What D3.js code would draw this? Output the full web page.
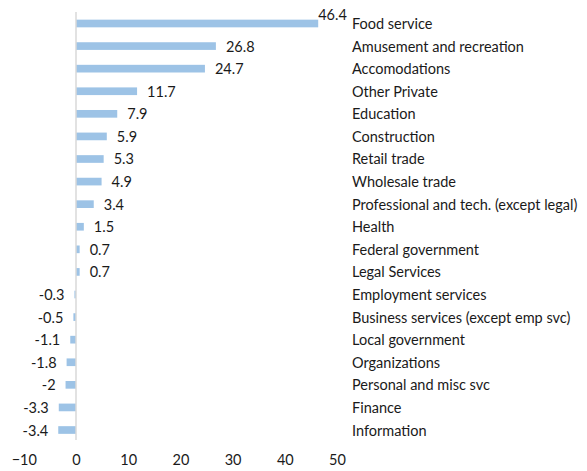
<!DOCTYPE html>
<html>
<head>
<meta charset="utf-8">
<script src="https://cdn.jsdelivr.net/npm/d3@7/dist/d3.min.js"></script>
<style>
  html, body { margin: 0; padding: 0; background: #fff; }
  svg { display: block; }
  text { font-family: Lato, "Open Sans", sans-serif; fill: #1a1a1a; }
</style>
</head>
<body>
<svg id="chart" width="587" height="471"></svg>
<script>
// Employment change by industry
const categories = [
  "Food service", "Amusement and recreation", "Accomodations", "Other Private",
  "Education", "Construction", "Retail trade", "Wholesale trade",
  "Professional and tech. (except legal)", "Health", "Federal government",
  "Legal Services", "Employment services", "Business services (except emp svc)",
  "Local government", "Organizations", "Personal and misc svc", "Finance", "Information"
];
const values = [46.4, 26.8, 24.7, 11.7, 7.9, 5.9, 5.3, 4.9, 3.4, 1.5, 0.7, 0.7,
  -0.3, -0.5, -1.1, -1.8, -2, -3.3, -3.4];
const xTicks = [-10, 0, 10, 20, 30, 40, 50];

const svg = d3.select("#chart");
const fontSize = 14.5;

const x = d3.scaleLinear().domain([-10, 50]).range([23.8, 337]);
const y = d3.scaleBand().domain(categories).range([12.2, 441.3]).paddingInner(0.66).paddingOuter(0.33);

// bars
svg.append("g").selectAll("rect")
  .data(values)
  .join("rect")
  .attr("x", d => x(Math.min(0, d)))
  .attr("width", d => Math.abs(x(d) - x(0)))
  .attr("y", (d, i) => y(categories[i]))
  .attr("height", y.bandwidth())
  .attr("fill", "#9dc3e6");

// zero line
svg.append("line")
  .attr("x1", x(0)).attr("x2", x(0))
  .attr("y1", 12).attr("y2", 440)
  .attr("stroke", "#d9d9d9").attr("stroke-width", 1.5);

// value labels
const gap = 10;
svg.append("g").selectAll("text")
  .data(values)
  .join("text")
  .attr("font-size", fontSize)
  .attr("dominant-baseline", "central")
  .each(function(d, i) {
    const t = d3.select(this);
    const cy = y(categories[i]) + y.bandwidth() / 2;
    if (d >= 0) {
      const lx = x(d) + gap;
      if (lx + 30 > 345) {
        // not enough room beside the bar: sit above its end
        t.attr("x", x(d)).attr("y", cy - 9).attr("text-anchor", "start");
      } else {
        t.attr("x", lx).attr("y", cy).attr("text-anchor", "start");
      }
    } else {
      t.attr("x", x(d) - gap).attr("y", cy).attr("text-anchor", "end");
    }
  })
  .text(d => String(d));

// category labels
svg.append("g").selectAll("text")
  .data(categories)
  .join("text")
  .attr("x", 352)
  .attr("y", d => y(d) + y.bandwidth() / 2)
  .attr("dominant-baseline", "central")
  .attr("font-size", fontSize)
  .text(d => d);

// x axis
const xAxis = d3.axisBottom(x).tickValues(xTicks).tickSize(0).tickPadding(0).tickFormat(d3.format("d"));
const gx = svg.append("g").attr("transform", "translate(0,455)").call(xAxis);
gx.select(".domain").remove();
gx.selectAll("text")
  .attr("font-size", fontSize)
  .attr("font-family", "Lato, sans-serif")
  .attr("fill", "#1a1a1a");
</script>
</body>
</html>
